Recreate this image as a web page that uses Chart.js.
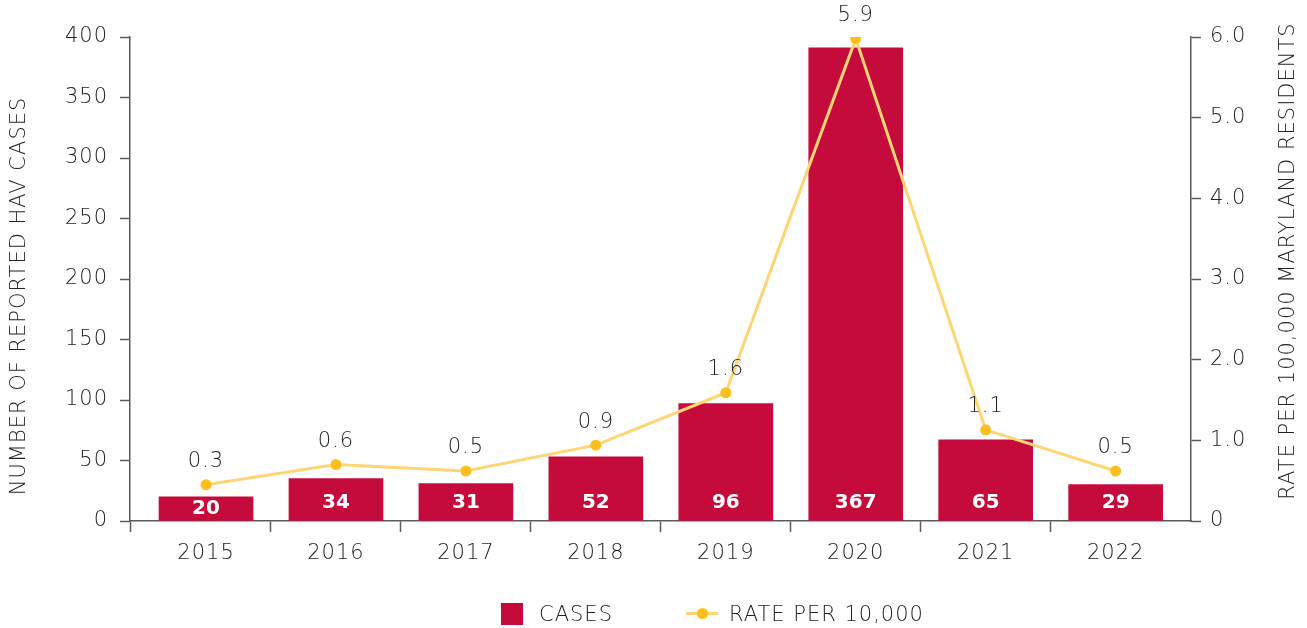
<!DOCTYPE html>
<html lang="en">
<head>
    <meta charset="UTF-8">
    <title>Reported HAV cases</title>
    <script src="https://cdn.jsdelivr.net/npm/chart.js"></script>
    <style>
        body { margin: 0; background: #fff; font-family: "DejaVu Sans", sans-serif; }
        #wrap { position: relative; width: 1307px; height: 628px; }
        #legend { position: absolute; left: 0; top: 600px; width: 1307px; height: 28px; color: #222; font-size: 21px; font-weight: 300; letter-spacing: 1px; }
        .item { position: absolute; top: 0; height: 28px; line-height: 28px; }
        .sq { position: absolute; width: 22px; height: 22px; background: #c40b3b; top: 3px; }
        .ln { position: absolute; width: 32px; height: 3px; background: #fdd574; top: 12px; }
        .dot { position: absolute; width: 11px; height: 11px; border-radius: 50%; background: #fdbf1f; top: 8px; }
    </style>
</head>
<body>
<div id="wrap">
    <canvas id="havChart" width="1307" height="628"></canvas>
    <div id="legend">
        <div class="sq" style="left:501px"></div>
        <div class="item" style="left:539px">CASES</div>
        <div class="ln" style="left:686px"></div>
        <div class="dot" style="left:697px"></div>
        <div class="item" style="left:729px">RATE PER 10,000</div>
    </div>
</div>
<script>
    var years = ['2015', '2016', '2017', '2018', '2019', '2020', '2021', '2022'];
    // bar heights as drawn, and the numbers printed on them
    var cases = [20, 35, 31, 53, 97, 391, 67, 30];
    var caseLabels = ['20', '34', '31', '52', '96', '367', '65', '29'];
    // rate points as drawn, and the numbers printed above them
    var rates = [0.45, 0.7, 0.62, 0.94, 1.59, 5.98, 1.13, 0.62];
    var rateLabels = ['0.3', '0.6', '0.5', '0.9', '1.6', '5.9', '1.1', '0.5'];
    var caseTicks = [0, 50, 100, 150, 200, 250, 300, 350, 400];
    var rateTicks = [0, 1, 2, 3, 4, 5, 6];

    var axisColor = '#5a5a5a';
    var textColor = '#222222';
    var fontFamily = '"DejaVu Sans", sans-serif';

    var xMin = -0.585, xMax = 7.58;

    var spacingPlugin = {
        id: 'spacingPlugin',
        beforeDraw: function (chart) { chart.ctx.letterSpacing = '1px'; }
    };

    var labelsPlugin = {
        id: 'labelsPlugin',
        afterDatasetsDraw: function (chart) {
            var ctx = chart.ctx;
            ctx.save();
            ctx.textAlign = 'center';
            ctx.textBaseline = 'middle';

            // bar labels
            ctx.fillStyle = '#ffffff';
            ctx.font = 'bold 20px ' + fontFamily;
            ctx.letterSpacing = '0px';
            chart.getDatasetMeta(0).data.forEach(function (bar, i) {
                var mid = (bar.y + bar.base) / 2;
                var y = Math.max(mid, bar.base - 18);
                ctx.fillText(caseLabels[i], bar.x, y);
            });

            // point labels
            ctx.fillStyle = textColor;
            ctx.font = '300 21px ' + fontFamily;
            ctx.letterSpacing = '1px';
            chart.getDatasetMeta(1).data.forEach(function (pt, i) {
                ctx.fillText(rateLabels[i], pt.x, pt.y - 23);
            });

            // axis titles
            ctx.save();
            ctx.translate(20, 296);
            ctx.rotate(-Math.PI / 2);
            ctx.fillText('NUMBER OF REPORTED HAV CASES', 0, 0);
            ctx.restore();
            ctx.save();
            ctx.translate(1289, 261);
            ctx.rotate(-Math.PI / 2);
            ctx.fillText('RATE PER 100,000 MARYLAND RESIDENTS', 0, 0);
            ctx.restore();

            ctx.restore();
        }
    };

    var tickFont = { family: fontFamily, size: 21, weight: '300' };

    var ctx = document.getElementById('havChart').getContext('2d');
    new Chart(ctx, {
        data: {
            datasets: [{
                type: 'bar',
                label: 'CASES',
                data: cases.map(function (v, i) { return { x: i, y: v }; }),
                backgroundColor: '#c40b3b',
                barThickness: 94,
                yAxisID: 'y',
                order: 2
            }, {
                type: 'line',
                label: 'RATE PER 10,000',
                data: rates.map(function (v, i) { return { x: i, y: v }; }),
                borderColor: '#fdd574',
                borderWidth: 3,
                pointBackgroundColor: '#fdbf1f',
                pointBorderColor: '#fdbf1f',
                pointRadius: 5.5,
                pointBorderWidth: 0,
                tension: 0,
                yAxisID: 'y1',
                order: 1
            }]
        },
        options: {
            responsive: false,
            animation: false,
            layout: { padding: { top: 37, left: 0, right: 0, bottom: 0 } },
            plugins: {
                legend: { display: false },
                tooltip: { enabled: false }
            },
            scales: {
                x: {
                    type: 'linear',
                    offset: false,
                    min: xMin,
                    max: xMax,
                    afterBuildTicks: function (scale) {
                        var t = [{ value: xMin }];
                        for (var i = 0; i < years.length; i++) {
                            t.push({ value: i });
                            if (i < years.length - 1) t.push({ value: i + 0.5 });
                        }
                        scale.ticks = t;
                    },
                    afterFit: function (scale) { scale.height = 107; },
                    grid: {
                        offset: false,
                        drawOnChartArea: false,
                        tickLength: 11,
                        tickWidth: 1.5,
                        tickColor: function (c) {
                            if (!c.tick) return axisColor;
                            return Number.isInteger(c.tick.value) ? 'rgba(0,0,0,0)' : axisColor;
                        }
                    },
                    border: { display: true, color: axisColor, width: 1.5 },
                    ticks: {
                        autoSkip: false,
                        maxRotation: 0,
                        padding: 9,
                        color: textColor,
                        font: tickFont,
                        callback: function (v) {
                            return Number.isInteger(v) ? years[v] : '';
                        }
                    }
                },
                y: {
                    position: 'left',
                    min: 0,
                    max: 400,
                    afterBuildTicks: function (scale) {
                        scale.ticks = caseTicks.map(function (v) { return { value: v }; });
                    },
                    afterFit: function (scale) { scale.width = 130; },
                    grid: { drawOnChartArea: false, tickLength: 10, tickWidth: 1.5, tickColor: axisColor },
                    border: { display: true, color: axisColor, width: 1.5 },
                    ticks: {
                        padding: 12,
                        color: textColor,
                        font: tickFont
                    }
                },
                y1: {
                    position: 'right',
                    min: 0,
                    max: 6,
                    afterBuildTicks: function (scale) {
                        scale.ticks = rateTicks.map(function (v) { return { value: v }; });
                    },
                    afterFit: function (scale) { scale.width = 116; },
                    grid: { drawOnChartArea: false, tickLength: 10, tickWidth: 1.5, tickColor: axisColor },
                    border: { display: true, color: axisColor, width: 1.5 },
                    ticks: {
                        padding: 9,
                        color: textColor,
                        font: tickFont,
                        callback: function (v) { return v === 0 ? '0' : v.toFixed(1); }
                    }
                }
            }
        },
        plugins: [spacingPlugin, labelsPlugin]
    });
</script>
</body>
</html>
